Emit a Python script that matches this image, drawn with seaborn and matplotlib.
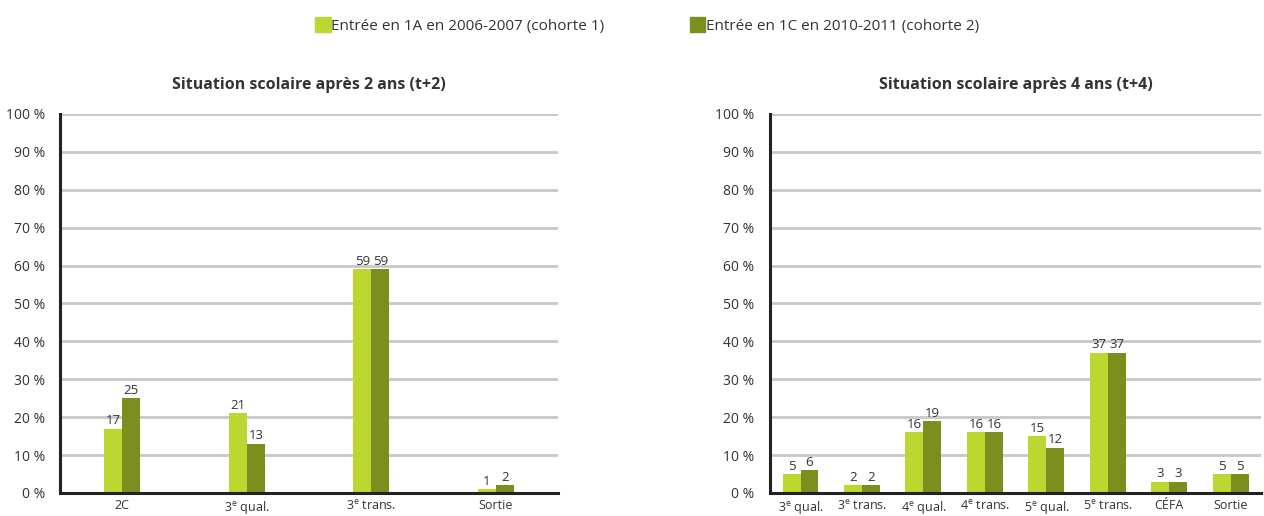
import pandas as pd
import matplotlib
matplotlib.use("Agg")
import matplotlib.pyplot as plt
import seaborn as sns

# Data
cohorts = ["Entrée en 1A en 2006-2007 (cohorte 1)", "Entrée en 1C en 2010-2011 (cohorte 2)"]
colors = ["#BDD630", "#7A8F1E"]

cats_t2 = ["2C", "3$^{e}$ qual.", "3$^{e}$ trans.", "Sortie"]
c1_t2 = [17, 21, 59, 1]
c2_t2 = [25, 13, 59, 2]

cats_t4 = ["3$^{e}$ qual.", "3$^{e}$ trans.", "4$^{e}$ qual.", "4$^{e}$ trans.",
           "5$^{e}$ qual.", "5$^{e}$ trans.", "CÉFA", "Sortie"]
c1_t4 = [5, 2, 16, 16, 15, 37, 3, 5]
c2_t4 = [6, 2, 19, 16, 12, 37, 3, 5]

yticks = list(range(0, 101, 10))
ytick_labels = [f"{v} %" for v in yticks]

sns.set_style("white")
plt.rcParams['font.family'] = ['Open Sans', 'DejaVu Sans']
plt.rcParams['mathtext.fontset'] = 'custom'
plt.rcParams['mathtext.rm'] = 'Open Sans'
plt.rcParams['mathtext.it'] = 'Open Sans'
plt.rcParams['mathtext.default'] = 'regular'
TXT = "#333333"


def make_df(cats, v1, v2):
    return pd.DataFrame({
        "cat": cats * 2,
        "val": v1 + v2,
        "cohorte": [cohorts[0]] * len(cats) + [cohorts[1]] * len(cats),
    })


def draw(ax, df, title, width):
    sns.barplot(data=df, x="cat", y="val", hue="cohorte", palette=colors,
                width=width, ax=ax, legend=False, saturation=1, linewidth=0)
    ax.set_ylim(0, 100)
    ax.set_yticks(yticks)
    ax.set_yticklabels(ytick_labels, fontsize=10, color=TXT)
    ax.yaxis.grid(True, color="#C8C8C8", linewidth=2)
    ax.set_axisbelow(True)
    ax.set_xlabel("")
    ax.set_ylabel("")
    ax.tick_params(axis="x", length=0, labelsize=9, colors=TXT, pad=4)
    ax.tick_params(axis="y", length=3, width=1.5, colors="#222222", labelcolor=TXT, pad=8)
    for s in ["top", "right"]:
        ax.spines[s].set_visible(False)
    for s in ["left", "bottom"]:
        ax.spines[s].set_color("#222222")
        ax.spines[s].set_linewidth(2.2)
    ax.set_title(title, fontsize=11.5, fontweight="bold", color=TXT, pad=18)
    for cont in ax.containers:
        ax.bar_label(cont, fontsize=9.5, color=TXT, padding=1)


fig = plt.figure(figsize=(12.64, 5.16), dpi=100)
ax1 = fig.add_axes([0.0475, 0.0446, 0.394, 0.7345])
ax2 = fig.add_axes([0.609, 0.0446, 0.389, 0.7345])

draw(ax1, make_df(cats_t2, c1_t2, c2_t2), "Situation scolaire après 2 ans (t+2)", 0.29)
draw(ax2, make_df(cats_t4, c1_t4, c2_t4), "Situation scolaire après 4 ans (t+4)", 0.585)

handles = [plt.Rectangle((0, 0), 1, 1, color=c) for c in colors]
fig.legend(handles, cohorts, loc="center", bbox_to_anchor=(0.512, 0.951), ncol=2,
           frameon=False, fontsize=11, handlelength=1.0, handleheight=1.1,
           handletextpad=0.05, columnspacing=5.6, labelcolor=TXT)

fig.savefig("out.png", dpi=100)
